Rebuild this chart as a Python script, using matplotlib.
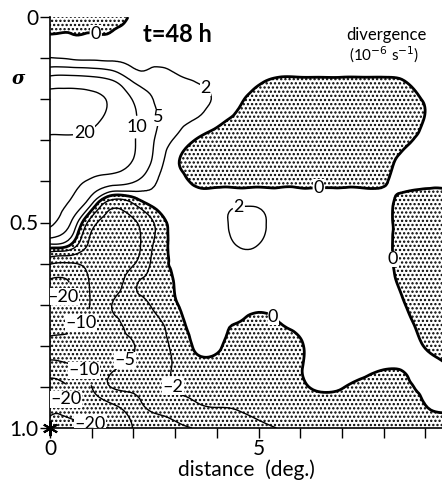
import numpy as np
import matplotlib
matplotlib.use("Agg")
import matplotlib.pyplot as plt
import matplotlib.tri as mtri

plt.rcParams['font.family'] = ['Lato', 'DejaVu Sans']
plt.rcParams['hatch.linewidth'] = 1.1
plt.rcParams['contour.negative_linestyle'] = 'solid'

# grid of the chart: distance (deg) and sigma
distance = np.arange(0, 10, 0.5)
sigma = np.round(np.arange(0, 1.0001, 0.05), 2)

# divergence (1e-6 s^-1), one row per sigma level
row_000 = [-1.5, -1.5, -1.5, -1.2, 0.4, 1.0, 1.0, 1.0, 1.0, 1.0, 1.0, 1.0, 1.0, 1.0, 1.0, 1.0, 1.0, 1.0, 1.0, 1.0]
row_005 = [0.15, 0.1, 0.1, 0.2, 0.8, 1.0, 1.0, 1.0, 1.0, 1.0, 1.0, 1.0, 1.0, 1.0, 1.0, 1.0, 1.0, 1.0, 1.0, 1.0]
row_010 = [2.1, 1.7, 1.5, 1.4, 1.3, 1.2, 1.1, 1.0, 1.0, 1.0, 1.0, 1.0, 1.0, 1.0, 1.0, 1.0, 1.0, 1.0, 1.0, 1.0]
row_015 = [12, 12.5, 11.5, 9.0, 4.0, 3.3, 2.4, 1.8, 1.3, 1.0, 0.35, -0.1, -0.1, -0.1, -0.1, -0.1, -0.1, 0.1, 0.8, 1.0]
row_020 = [26, 26, 24, 17.5, 9.5, 4.8, 3.2, 2.6, 1.7, 0.4, -0.6, -0.9, -1.0, -1.0, -1.0, -1.0, -1.0, -0.6, 0.15, 0.8]
row_025 = [25.5, 25.5, 23, 16, 10.8, 5.8, 3.0, 1.9, 0.6, -0.4, -0.9, -1.0, -1.0, -1.0, -1.0, -1.0, -1.0, -1.0, 0.1, 0.8]
row_030 = [18.5, 18.5, 17.5, 14, 10.5, 5.0, 1.7, -0.1, -0.7, -1.0, -1.0, -1.0, -1.0, -1.0, -1.0, -1.0, -0.9, -0.35, 0.5, 0.9]
row_035 = [16, 15.5, 14.5, 12.5, 9.8, 4.2, 0.4, -0.9, -1.0, -1.0, -1.0, -1.0, -1.0, -1.0, -1.0, -1.0, -0.6, 0.5, 0.9, 1.0]
row_040 = [13.5, 12, 9, 7, 5.3, 2.3, 0.9, -0.4, -0.5, -0.6, -0.5, -0.5, -0.5, -0.5, -0.5, -0.5, -0.2, 0.6, 0.6, 0.6]
row_045 = [12.5, 9.5, 2.8, -3.0, -1.5, 0.8, 1.2, 1.1, 1.2, 1.6, 1.55, 1.2, 1.0, 1.0, 1.0, 1.0, 0.5, -0.6, -1.0, -1.0]
row_050 = [11.5, 5, -3.5, -6.5, -5.5, -1.9, 0.8, 1.2, 1.5, 2.4, 2.4, 1.4, 1.1, 1.0, 1.0, 1.0, 0.6, -0.8, -1.0, -1.0]
row_055 = [2.5, 0.5, -6, -7.5, -6.5, -1.8, 0.4, 1.2, 1.5, 2.1, 2.05, 1.3, 1.0, 1.0, 1.0, 1.0, 0.6, -0.8, -1.0, -1.0]
row_060 = [-9.5, -10.5, -8, -7.2, -5.3, -1.3, 0.25, 1.0, 1.2, 1.4, 1.4, 1.1, 1.0, 1.0, 1.0, 1.0, 0.6, -0.7, -1.0, -1.0]
row_065 = [-22, -19.5, -9, -6.5, -2.6, -1.2, 0.1, 0.9, 1.0, 1.0, 1.0, 1.0, 1.0, 1.0, 1.0, 1.0, 0.7, -0.4, -1.0, -1.0]
row_070 = [-20.3, -15, -9.5, -4.9, -3.0, -1.7, -0.2, 0.8, 1.0, 0.6, 0.35, 0.5, 0.7, 0.9, 1.0, 1.0, 0.8, 0.05, -0.9, -1.0]
row_075 = [-13, -11, -8.5, -6, -4, -2.6, -1.0, 0.6, 0.4, -0.1, -0.5, -0.1, 0.35, 0.8, 0.9, 0.9, 0.8, 0.5, -0.6, -1.0]
row_080 = [-8.5, -8, -7, -5.8, -5.1, -3.0, -1.6, 0.3, 0.35, -0.8, -0.9, -0.8, -0.15, 0.7, 0.9, 0.9, 0.9, 0.7, -0.1, -0.9]
row_085 = [-13, -11, -8, -5.5, -4.2, -3.0, -1.8, -0.8, -0.9, -1.2, -1.2, -1.0, -0.1, 0.5, 0.5, 0.35, 0.15, 0.15, 0.4, 0.1]
row_090 = [-23, -19, -10, -4.8, -4.3, -3.3, -1.9, -1.6, -1.5, -1.5, -1.5, -1.5, -0.4, 0.2, 0.05, -0.2, -0.4, -0.2, 0.2, 0.3]
row_095 = [-19.5, -18.5, -15, -11.5, -7, -4.3, -3.2, -2.3, -2.0, -1.9, -1.6, -1.4, -1.2, -0.7, -0.6, -0.6, -0.6, -0.6, -0.05, 0.1]
row_100 = [-25, -23.5, -21.5, -19, -9.6, -7.5, -6, -4.8, -3.8, -3.0, -2.4, -1.95, -1.6, -1.2, -1.2, -1.2, -1.2, -1.2, -1.0, -0.4]

divergence = np.array([row_000, row_005, row_010, row_015, row_020, row_025, row_030,
                       row_035, row_040, row_045, row_050, row_055, row_060, row_065,
                       row_070, row_075, row_080, row_085, row_090, row_095, row_100])

contour_levels = [-20, -10, -5, -2, 0, 2, 5, 10, 20]

# label positions (layout) per contour level
label_spots = {
    0: [(1.08, 0.05), (6.45, 0.426), (8.18, 0.589), (5.3, 0.735)],
    2: [(3.72, 0.173), (4.55, 0.49)],
    5: [(2.64, 0.243)],
    10: [(2.09, 0.268)],
    20: [(0.84, 0.287)],
    -2: [(2.95, 0.9)],
    -5: [(1.87, 0.842)],
    -10: [(0.79, 0.75), (0.77, 0.864)],
    -20: [(0.43, 0.693), (0.31, 0.925), (1.0, 0.976)],
}

# triangulate in grid-index space, refine smoothly with matplotlib's cubic refiner
dx = distance[1] - distance[0]
ds = sigma[1] - sigma[0]
X, S = np.meshgrid(distance, sigma)
tri_idx = mtri.Triangulation((X / dx).ravel(), (S / ds).ravel())
refiner = mtri.UniformTriRefiner(tri_idx)
tri_ref, z_ref = refiner.refine_field(divergence.ravel(), subdiv=3)
tri_fine = mtri.Triangulation(tri_ref.x * dx, tri_ref.y * ds, tri_ref.triangles)

fig = plt.figure(figsize=(4.42, 4.84), dpi=100)
ax = fig.add_axes([50 / 442, 56 / 484, 392 / 442, 411 / 484])

ax.tricontourf(tri_fine, z_ref, levels=[-1000, 0], colors='none', hatches=['....'])

def fmt_label(v):
    return f"{v:.0f}".replace('-', '\u2013')

texts = []
for lev in contour_levels:
    lw = 2.0 if lev == 0 else 1.0
    cs = ax.tricontour(tri_fine, z_ref, levels=[lev], colors='k', linewidths=lw,
                       linestyles='solid')
    t = ax.clabel(cs, manual=label_spots[lev], inline=True, inline_spacing=1,
                  fmt=fmt_label, fontsize=13)
    texts.extend(t)
for t in texts:
    t.set_rotation(0)
    t.set_bbox(dict(facecolor='white', edgecolor='none', pad=0.2))

ax.set_xlim(0, 9.4)
ax.set_ylim(1.0, 0.0)
ax.spines['top'].set_visible(False)
ax.spines['right'].set_visible(False)
ax.spines['left'].set_linewidth(1.2)
ax.spines['bottom'].set_linewidth(1.2)

ax.set_xticks(np.arange(0, 10, 1))
ax.set_xticklabels(['0', '', '', '', '', '5', '', '', '', ''])
ax.set_yticks(np.round(np.arange(0, 1.01, 0.1), 1))
ax.set_yticklabels(['0', '', '', '', '', '0.5', '', '', '', '', '1.0'])
ax.tick_params(axis='both', direction='out', length=7, width=1.0, labelsize=15, pad=1)
ax.set_xlabel('distance  (deg.)', fontsize=15, labelpad=0)

ax.plot([distance[0]], [sigma[-1]], marker=(6, 2, 0), markersize=11, color='k',
        mew=1.5, clip_on=False, zorder=5)

fig.text(18 / 442, 1 - 79 / 484, 'σ', family='DejaVu Serif', style='italic',
         weight='bold', fontsize=13, ha='center', va='center')
fig.text(177 / 442, 1 - 35 / 484, 't=48 h', weight='bold', fontsize=17,
         ha='center', va='center')
fig.text(386 / 442, 1 - 35 / 484, 'divergence', fontsize=12, ha='center', va='center')
fig.text(384 / 442, 1 - 55 / 484, '(10$^{-6}$ s$^{-1}$)', fontsize=11,
         ha='center', va='center')

fig.savefig('out.png', dpi=100)
